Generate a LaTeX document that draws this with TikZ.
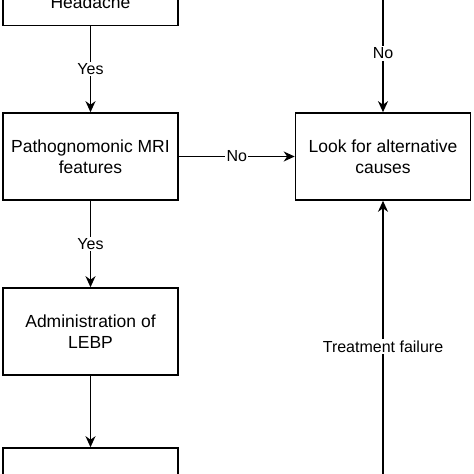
\documentclass[tikz,border=0pt]{standalone}
\usepackage{fontspec}
\setmainfont{Liberation Sans}
\usetikzlibrary{arrows.meta}
\begin{document}
\begin{tikzpicture}[x=1pt,y=1pt,
  box/.style={draw=black, line width=1.6pt, minimum width=175pt, minimum height=87pt,
    align=center, font=\fontsize{17.5}{21.5}\selectfont, inner sep=0pt, text=black},
  conn/.style={draw=black, line width=1.5pt, -{Stealth[length=11pt,width=10pt,inset=3.5pt]}},
  lbl/.style={fill=white, font=\fontsize{16}{19}\selectfont, inner sep=1.5pt, text=black}]
\useasboundingbox (0,0) rectangle (474,474);
\clip (0,0) rectangle (474,474);
\node[box, minimum height=46pt] (head) at (90.5,471.5) {Headache};
\node[box] (patho) at (90.5,317.5) {Pathognomonic MRI\\features};
\node[box] (alt) at (383,317.5) {Look for alternative\\causes};
\node[box] (admin) at (90.5,142.5) {Administration of\\LEBP};
\node[box] (next) at (90.5,-17.5) {};
\coordinate (topin) at (383,480);
\coordinate (botin) at (383,-5);
\draw[conn] (head) -- node[lbl] {Yes} (patho);
\draw[conn] (patho) -- node[lbl] {No} (alt);
\draw[conn] (patho) -- node[lbl] {Yes} (admin);
\draw[conn] (admin) -- (next);
\draw[conn] (topin) -- node[lbl, pos=0.504] {No} (alt);
\draw[conn] (botin) -- node[lbl, pos=0.477] {Treatment failure} (alt);
\end{tikzpicture}
\end{document}
